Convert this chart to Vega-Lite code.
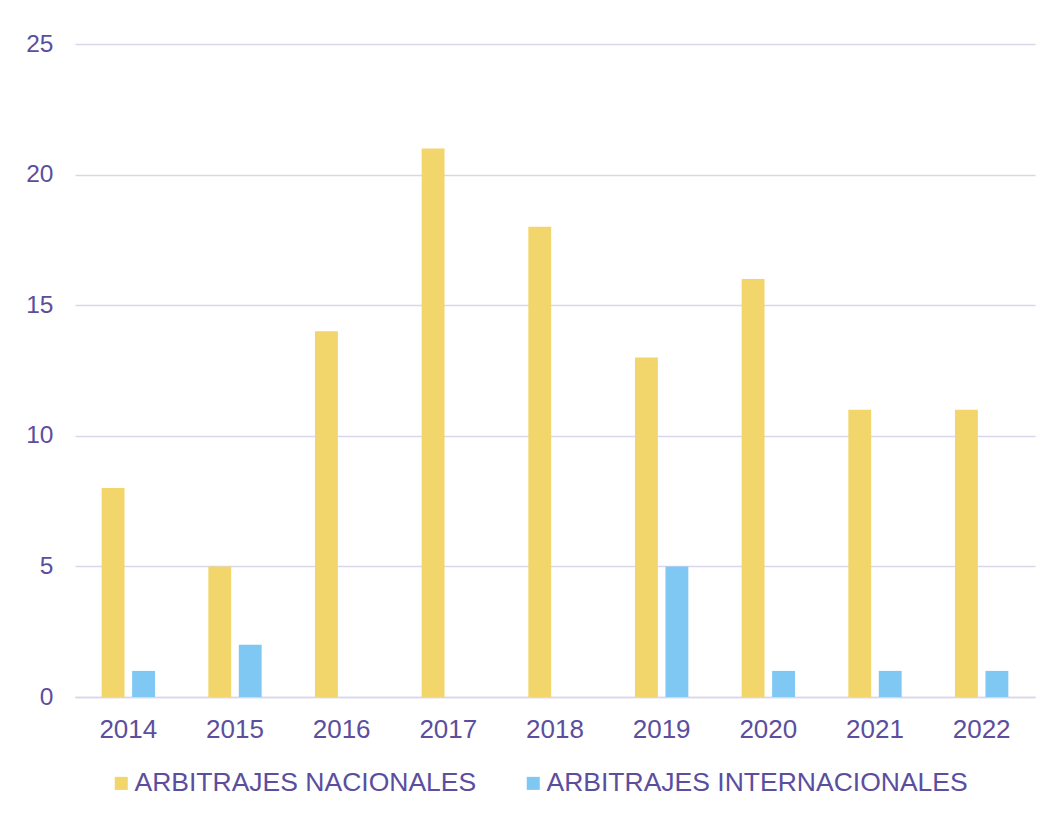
{
  "$schema": "https://vega.github.io/schema/vega-lite/v6.json",
  "autosize": {"type": "none"},
  "width": 960,
  "height": 653,
  "padding": {"left": 75, "top": 44, "right": 16, "bottom": 119},
  "background": "white",
  "data": {
    "values": [
      {"year": "2014", "serie": "ARBITRAJES NACIONALES", "value": 8},
      {"year": "2014", "serie": "ARBITRAJES INTERNACIONALES", "value": 1},
      {"year": "2015", "serie": "ARBITRAJES NACIONALES", "value": 5},
      {"year": "2015", "serie": "ARBITRAJES INTERNACIONALES", "value": 2},
      {"year": "2016", "serie": "ARBITRAJES NACIONALES", "value": 14},
      {"year": "2016", "serie": "ARBITRAJES INTERNACIONALES", "value": 0},
      {"year": "2017", "serie": "ARBITRAJES NACIONALES", "value": 21},
      {"year": "2017", "serie": "ARBITRAJES INTERNACIONALES", "value": 0},
      {"year": "2018", "serie": "ARBITRAJES NACIONALES", "value": 18},
      {"year": "2018", "serie": "ARBITRAJES INTERNACIONALES", "value": 0},
      {"year": "2019", "serie": "ARBITRAJES NACIONALES", "value": 13},
      {"year": "2019", "serie": "ARBITRAJES INTERNACIONALES", "value": 5},
      {"year": "2020", "serie": "ARBITRAJES NACIONALES", "value": 16},
      {"year": "2020", "serie": "ARBITRAJES INTERNACIONALES", "value": 1},
      {"year": "2021", "serie": "ARBITRAJES NACIONALES", "value": 11},
      {"year": "2021", "serie": "ARBITRAJES INTERNACIONALES", "value": 1},
      {"year": "2022", "serie": "ARBITRAJES NACIONALES", "value": 11},
      {"year": "2022", "serie": "ARBITRAJES INTERNACIONALES", "value": 1}
    ]
  },
  "mark": {"type": "bar"},
  "encoding": {
    "x": {
      "field": "year",
      "type": "nominal",
      "scale": {"paddingInner": 0.5, "paddingOuter": 0.25},
      "axis": {
        "title": null,
        "labelAngle": 0,
        "ticks": false,
        "domain": true,
        "domainColor": "#D9D6EC",
        "domainWidth": 1.5,
        "labelPadding": 19,
        "labelFontSize": 26,
        "labelFont": "Liberation Sans",
        "labelColor": "#5B4E9E"
      }
    },
    "xOffset": {
      "field": "serie",
      "type": "nominal",
      "sort": ["ARBITRAJES NACIONALES", "ARBITRAJES INTERNACIONALES"],
      "scale": {"paddingInner": 0.25, "paddingOuter": 0}
    },
    "y": {
      "field": "value",
      "type": "quantitative",
      "scale": {"domain": [0, 25], "nice": false},
      "axis": {
        "title": null,
        "values": [0, 5, 10, 15, 20, 25],
        "ticks": false,
        "domain": false,
        "grid": true,
        "gridColor": "#D9D6EC",
        "gridWidth": 1.5,
        "labelPadding": 22,
        "labelFontSize": 24.5,
        "labelFont": "Liberation Sans",
        "labelColor": "#5B4E9E"
      }
    },
    "color": {
      "field": "serie",
      "type": "nominal",
      "sort": ["ARBITRAJES NACIONALES", "ARBITRAJES INTERNACIONALES"],
      "scale": {
        "domain": ["ARBITRAJES NACIONALES", "ARBITRAJES INTERNACIONALES"],
        "range": ["#F2D56B", "#7FC8F3"]
      },
      "legend": {
        "title": null,
        "orient": "none",
        "direction": "horizontal",
        "legendX": 33,
        "legendY": 726,
        "padding": 0,
        "symbolType": "square",
        "symbolSize": 170,
        "symbolStrokeWidth": 0,
        "labelOffset": 0,
        "columnPadding": 43,
        "labelFontSize": 26.5,
        "labelFont": "Liberation Sans",
        "labelColor": "#5B4E9E",
        "labelLimit": 600
      }
    }
  },
  "config": {"view": {"stroke": null}}
}
